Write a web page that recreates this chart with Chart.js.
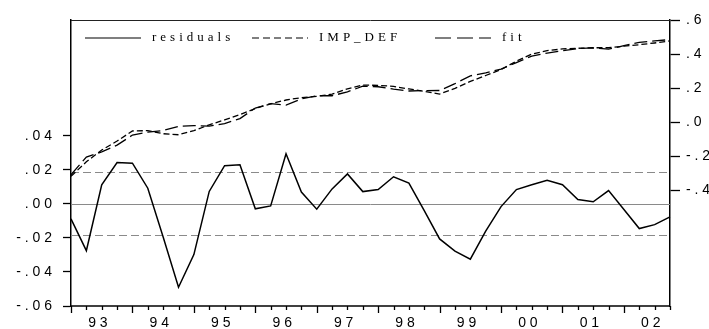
<!DOCTYPE html>
<html>
<head>
<meta charset="utf-8">
<script src="https://cdn.jsdelivr.net/npm/chart.js@4.4.1/dist/chart.umd.min.js"></script>
<style>
  html, body { margin: 0; padding: 0; background: #fff; }
  #wrap { width: 709px; height: 329px; }
</style>
</head>
<body>
<div id="wrap"><canvas id="residChart" width="709" height="329"></canvas></div>
<script>
// kuartal 1993Q1 - 2002Q4
const quarters = [
  '1993Q1','1993Q2','1993Q3','1993Q4','1994Q1','1994Q2','1994Q3','1994Q4',
  '1995Q1','1995Q2','1995Q3','1995Q4','1996Q1','1996Q2','1996Q3','1996Q4',
  '1997Q1','1997Q2','1997Q3','1997Q4','1998Q1','1998Q2','1998Q3','1998Q4',
  '1999Q1','1999Q2','1999Q3','1999Q4','2000Q1','2000Q2','2000Q3','2000Q4',
  '2001Q1','2001Q2','2001Q3','2001Q4','2002Q1','2002Q2','2002Q3','2002Q4'
];
const yearLabels = ['93','94','95','96','97','98','99','00','01','02'];

const residuals = [
  -0.0088, -0.0275, 0.0112, 0.0243, 0.0239, 0.0092, -0.0195, -0.0490, -0.0298, 0.0073,
  0.0224, 0.0229, -0.0029, -0.0012, 0.0294, 0.0069, -0.0031, 0.0088, 0.0176, 0.0072,
  0.0084, 0.0159, 0.0122, -0.0040, -0.0206, -0.0278, -0.0325, -0.0160, -0.0016, 0.0084,
  0.0112, 0.0139, 0.0112, 0.0025, 0.0012, 0.0078, -0.0033, -0.0145, -0.0122, -0.0076
];
const impDef = [
  -0.318, -0.233, -0.164, -0.111, -0.052, -0.050, -0.068, -0.074, -0.050, -0.016,
  0.013, 0.044, 0.080, 0.108, 0.130, 0.144, 0.152, 0.164, 0.196, 0.218,
  0.216, 0.210, 0.195, 0.181, 0.165, 0.198, 0.239, 0.274, 0.309, 0.358,
  0.400, 0.420, 0.430, 0.434, 0.437, 0.437, 0.446, 0.455, 0.465, 0.477
];
const fitted = [
  -0.309, -0.205, -0.175, -0.135, -0.076, -0.059, -0.049, -0.025, -0.020, -0.023,
  -0.009, 0.021, 0.083, 0.109, 0.100, 0.137, 0.155, 0.155, 0.178, 0.211,
  0.208, 0.194, 0.183, 0.185, 0.186, 0.226, 0.272, 0.290, 0.311, 0.350,
  0.388, 0.406, 0.419, 0.432, 0.436, 0.429, 0.449, 0.469, 0.477, 0.485
];

const leftTicks = [-0.06, -0.04, -0.02, 0, 0.02, 0.04];
const rightTicks = [-0.4, -0.2, 0, 0.2, 0.4, 0.6];
const stdErr = 0.0185;

// format ala EViews: ".04", "-.02", dengan spasi antar huruf
function evLabel(v, digits) {
  let s = Math.abs(v).toFixed(digits).replace(/^0/, '');
  if (v < -1e-9) s = '-' + s;
  return s.split('').join(' ');
}

function spacedText(ctx, text, x, y, gap) {
  for (const ch of text) {
    ctx.fillText(ch, x, y);
    x += ctx.measureText(ch).width + gap;
  }
}

const legendItems = [
  { text: 'residuals', dash: [], lineX: 85 },
  { text: 'IMP_DEF', dash: [7, 4], lineX: 252 },
  { text: 'fit', dash: [16, 6], lineX: 435 }
];

const evFrame = {
  id: 'evFrame',
  beforeDatasetsDraw(chart) {
    const { ctx, chartArea: a, scales } = chart;
    const yL = scales.yL;
    ctx.save();
    ctx.strokeStyle = '#8a8a8a';
    ctx.lineWidth = 1;
    let y = Math.round(yL.getPixelForValue(0)) + 0.5;
    ctx.beginPath(); ctx.moveTo(a.left, y); ctx.lineTo(a.right, y); ctx.stroke();
    ctx.setLineDash([8, 4]);
    [stdErr, -stdErr].forEach(v => {
      y = Math.round(yL.getPixelForValue(v)) + 0.5;
      ctx.beginPath(); ctx.moveTo(a.left, y); ctx.lineTo(a.right, y); ctx.stroke();
    });
    ctx.restore();
  },
  afterDraw(chart) {
    const { ctx, chartArea: a, scales } = chart;
    const xs = scales.x;
    ctx.save();
    // garis atas & sumbu bawah
    ctx.strokeStyle = '#222';
    ctx.lineWidth = 1;
    ctx.beginPath(); ctx.moveTo(a.left, a.top + 0.5); ctx.lineTo(a.right, a.top + 0.5); ctx.stroke();
    ctx.strokeStyle = '#000';
    ctx.lineWidth = 1.5;
    ctx.beginPath(); ctx.moveTo(a.left, a.bottom); ctx.lineTo(a.right, a.bottom); ctx.stroke();

    // tick kuartal
    ctx.lineWidth = 1.3;
    quarters.forEach((q, i) => {
      const x = Math.round(xs.getPixelForValue(i)) + 0.5;
      const len = i % 4 === 0 ? 7 : 4;
      ctx.beginPath(); ctx.moveTo(x, a.bottom); ctx.lineTo(x, a.bottom + len); ctx.stroke();
    });

    // label tahun
    ctx.fillStyle = '#000';
    ctx.font = '14px "Liberation Sans", Arial, sans-serif';
    ctx.textAlign = 'center';
    ctx.textBaseline = 'middle';
    yearLabels.forEach((yr, k) => {
      const x = xs.getPixelForValue(1.75 + 4 * k);
      ctx.fillText(yr.split('').join(' '), x, 323);
    });

    // legenda
    ctx.font = '13px "Liberation Serif", "Times New Roman", serif';
    ctx.textAlign = 'left';
    ctx.lineWidth = 1.2;
    legendItems.forEach(it => {
      ctx.setLineDash(it.dash);
      ctx.beginPath(); ctx.moveTo(it.lineX, 38); ctx.lineTo(it.lineX + 56, 38); ctx.stroke();
      ctx.setLineDash([]);
      spacedText(ctx, it.text, it.lineX + 67, 38, 4);
    });
    ctx.restore();
  }
};

const tickFont = { family: '"Liberation Sans", Arial, sans-serif', size: 14 };

new Chart(document.getElementById('residChart'), {
  type: 'line',
  data: {
    labels: quarters,
    datasets: [
      {
        label: 'residuals',
        data: residuals,
        yAxisID: 'yL',
        borderColor: '#000',
        borderWidth: 1.5,
        pointRadius: 0,
        tension: 0
      },
      {
        label: 'IMP_DEF',
        data: impDef,
        yAxisID: 'yR',
        borderColor: '#000',
        borderWidth: 1.3,
        borderDash: [6, 3],
        pointRadius: 0,
        tension: 0
      },
      {
        label: 'fit',
        data: fitted,
        yAxisID: 'yR',
        borderColor: '#000',
        borderWidth: 1.3,
        borderDash: [13, 5],
        pointRadius: 0,
        tension: 0
      }
    ]
  },
  options: {
    responsive: false,
    animation: false,
    layout: { padding: { left: 0, right: 0, top: 20, bottom: 23 } },
    scales: {
      x: { type: 'category', display: false, offset: false },
      yL: {
        position: 'left',
        min: -0.06,
        max: 0.108,
        afterBuildTicks: axis => { axis.ticks = leftTicks.map(v => ({ value: v })); },
        afterFit: axis => { axis.width = 71; },
        grid: { drawOnChartArea: false, tickLength: 8, tickColor: '#000', tickWidth: 1.3 },
        border: { display: true, color: '#000', width: 1.5 },
        ticks: {
          color: '#000',
          font: tickFont,
          padding: 11,
          autoSkip: false,
          callback: v => evLabel(v, 2)
        }
      },
      yR: {
        position: 'right',
        min: -1.08,
        max: 0.6,
        afterBuildTicks: axis => { axis.ticks = rightTicks.map(v => ({ value: v })); },
        afterFit: axis => { axis.width = 39; },
        grid: { drawOnChartArea: false, tickLength: 10, tickColor: '#000', tickWidth: 1.3 },
        border: { display: true, color: '#000', width: 1.5 },
        ticks: {
          color: '#000',
          font: tickFont,
          padding: 6,
          autoSkip: false,
          callback: v => evLabel(v, 1)
        }
      }
    },
    plugins: {
      legend: { display: false },
      tooltip: { enabled: false }
    }
  },
  plugins: [evFrame]
});
</script>
</body>
</html>
